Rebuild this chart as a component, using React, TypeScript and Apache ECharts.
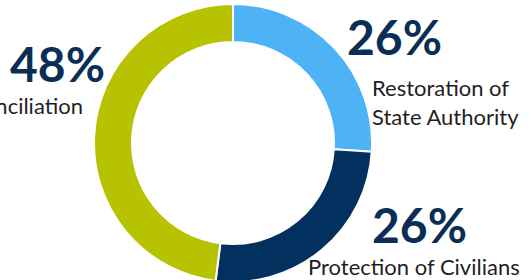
import React, { useEffect, useRef } from "react";
import * as echarts from "echarts";

const categories = ["Restoration of\nState Authority", "Protection of Civilians", "Reconciliation"];
const values = [26, 26, 48];
const percentLabels = ["26%", "26%", "48%"];
const colors = ["#4db3f4", "#02315f", "#b7c200"];

// layout of annotation texts: [pctX, pctY, nameX, nameY, nameAlign]
const layout: [number, number, number, number, "left" | "right"][] = [
  [347, 36, 372, 73, "left"],
  [372, 224, 308, 252, "left"],
  [10, 63, 83, 91, "right"],
];

export default function App() {
  const ref = useRef<HTMLDivElement>(null);
  useEffect(() => {
    document.body.style.margin = "0";
    const chart = echarts.init(ref.current!, undefined, { renderer: "svg" });
    const graphics: any[] = [];
    categories.forEach((name, i) => {
      const [px, py, nx, ny, align] = layout[i];
      graphics.push({
        type: "text",
        x: px,
        y: py,
        style: {
          text: percentLabels[i],
          font: "bold 48px Lato",
          fill: "#0b2e55",
          textAlign: "left",
          textVerticalAlign: "middle",
        },
      });
      graphics.push({
        type: "text",
        x: nx,
        y: ny,
        style: {
          text: name,
          font: "22px Lato",
          lineHeight: 29,
          fill: "#1f1f1f",
          textAlign: align,
          textVerticalAlign: "top",
        },
      });
    });
    chart.setOption({
      animation: false,
      series: [
        {
          type: "pie",
          center: [233, 143],
          radius: [101, 139],
          startAngle: 90,
          clockwise: true,
          label: { show: false },
          labelLine: { show: false },
          emphasis: { disabled: true },
          itemStyle: { borderColor: "#ffffff", borderWidth: 2 },
          data: categories.map((c, i) => ({
            name: c,
            value: values[i],
            itemStyle: { color: colors[i] },
          })),
        },
      ],
      graphic: graphics,
    });
    return () => chart.dispose();
  }, []);
  return <div ref={ref} style={{ width: 531, height: 280 }} />;
}
